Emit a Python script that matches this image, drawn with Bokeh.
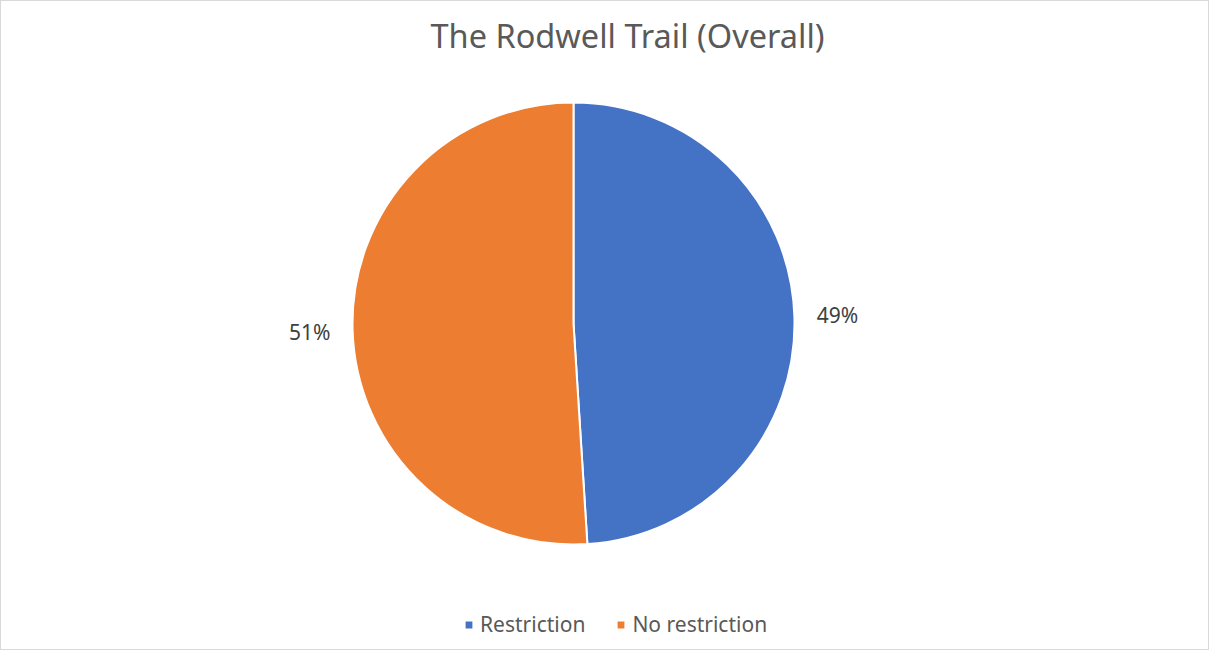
import numpy as np
from bokeh.plotting import figure
from bokeh.models import ColumnDataSource, Range1d
from bokeh.embed import file_html
from bokeh.resources import INLINE
from bokeh.core.properties import value

# ---- data ----
categories = ["Restriction", "No restriction"]
values = [49, 51]
colors = ["#4472C4", "#ED7D31"]

# ---- derived geometry ----
vals = np.array(values, dtype=float)
frac = vals / vals.sum()
cum = np.cumsum(frac)
prev = np.concatenate([[0.0], cum[:-1]])
start = np.pi / 2 - 2 * np.pi * prev
end = np.pi / 2 - 2 * np.pi * cum
mid = (start + end) / 2
labels = [f"{round(f * 100):.0f}%" for f in frac]

T = 61  # title panel height (min_border_top)
FW, FH = 1207, 650 - 2 - T
CX = 572
CY = FH - (322 - T)
R = 221
RL = 264

src = ColumnDataSource(dict(
    cat=categories, start=start, end=end, color=colors,
    lx=CX + RL * np.cos(mid), ly=CY + RL * np.sin(mid), lab=labels,
))

p = figure(frame_width=FW, frame_height=FH,
           x_range=Range1d(0, FW), y_range=Range1d(0, FH),
           output_backend="svg", toolbar_location=None,
           title="The Rodwell Trail (Overall)", min_border=0,
           min_border_top=T)
p.styles = {"border": "1px solid #d9d9d9"}
p.axis.visible = False
p.grid.visible = False
p.outline_line_color = None
p.background_fill_color = "white"
p.border_fill_color = "white"

p.title.align = "left"
p.title.offset = 429
p.title.text_font = "Noto Sans"
p.title.text_font_size = "32.5px"
p.title.text_font_style = "normal"
p.title.text_color = "#595959"
p.title.standoff = 9

p.wedge(x=CX, y=CY, radius=R, start_angle="start", end_angle="end",
        direction="clock", fill_color="color", line_color="white",
        line_width=2, legend_field="cat", source=src)

p.text(x="lx", y="ly", text="lab", source=src, text_align="center",
       text_baseline="middle", text_font=value("Noto Sans"),
       text_font_size="21px", text_color="#404040")

lg = p.legend[0]
lg.orientation = "horizontal"
lg.location = (462, 11)
lg.border_line_color = None
lg.background_fill_alpha = 0
lg.glyph_width = 11
lg.glyph_height = 11
lg.label_standoff = 6
lg.spacing = 30
lg.margin = 0
lg.padding = 0
lg.label_text_font = "Noto Sans"
lg.label_text_font_size = "21px"
lg.label_text_color = "#595959"

open("out.html", "w").write(file_html(p, INLINE))
